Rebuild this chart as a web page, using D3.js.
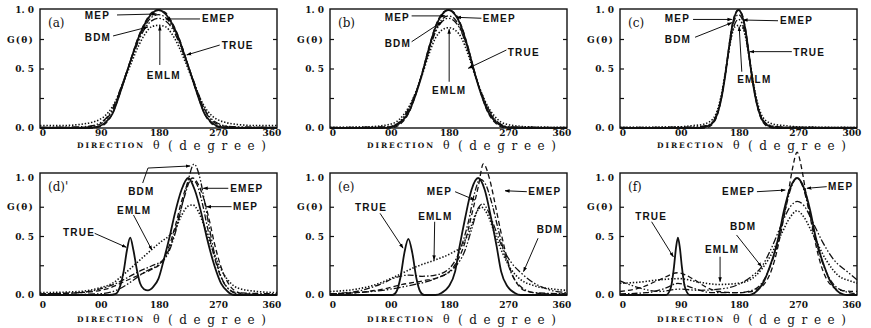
<!DOCTYPE html>
<html><head><meta charset="utf-8">
<script src="https://cdn.jsdelivr.net/npm/d3@7"></script>
<style>body{margin:0;background:#fff}</style>
</head><body><svg id="c" width="871" height="328"></svg>
<script>
// ---------- tick labels ----------
const xTickValues = [0, 90, 180, 270, 360];
const xTickText = {
  a: ["0", "90", "180", "270", "360"],
  b: ["0", "00", "180", "270", "360"],
  c: ["0", "00", "180", "270", "300"],
  d: ["0", "00", "180", "270", "360"],
  e: ["0", "00", "180", "270", "360"],
  f: ["0", "90", "180", "270", "360"]
};
const yTickValues = [0, 0.5, 0.75, 1.0];
const yTickText = ["0. 0", "0. 5", "G(θ)", "1. 0"];
const panelIds = ["a", "b", "c", "d", "e", "f"];
const panelTitles = ["(a)", "(b)", "(c)", "(d)'", "(e)", "(f)"];
const seriesNames = ["TRUE", "MEP", "EMEP", "BDM", "EMLM"];

// ---------- series: [direction deg, G] ----------
const a_TRUE = [[0,0],[70,0],[80,0.005],[90,0.015],[100,0.05],[110,0.12],[120,0.27],[130,0.44],[140,0.61],[150,0.77],[160,0.89],[170,0.97],[180,1.0],[190,0.97],[200,0.89],[210,0.77],[220,0.61],[230,0.44],[240,0.27],[250,0.12],[260,0.05],[270,0.015],[280,0.005],[290,0],[360,0]];
const a_MEP = [[0,0],[80,0],[90,0.01],[100,0.04],[110,0.12],[120,0.27],[130,0.44],[140,0.62],[150,0.78],[160,0.9],[170,0.98],[180,1.0],[190,0.98],[200,0.9],[210,0.78],[220,0.62],[230,0.44],[240,0.27],[250,0.12],[260,0.04],[270,0.01],[280,0],[360,0]];
const a_EMEP = [[0,0.005],[60,0.005],[80,0.015],[90,0.03],[100,0.07],[110,0.15],[120,0.29],[130,0.45],[140,0.61],[150,0.76],[160,0.87],[170,0.94],[180,0.96],[190,0.94],[200,0.87],[210,0.76],[220,0.61],[230,0.45],[240,0.29],[250,0.15],[260,0.07],[270,0.03],[280,0.015],[300,0.005],[360,0.005]];
const a_BDM = [[0,0.005],[60,0.01],[80,0.02],[90,0.04],[100,0.08],[110,0.16],[120,0.3],[130,0.45],[140,0.6],[150,0.74],[160,0.85],[170,0.91],[180,0.93],[190,0.91],[200,0.85],[210,0.74],[220,0.6],[230,0.45],[240,0.3],[250,0.16],[260,0.08],[270,0.04],[280,0.02],[300,0.01],[360,0.005]];
const a_EMLM = [[0,0.02],[30,0.02],[60,0.03],[80,0.05],[90,0.07],[100,0.11],[110,0.18],[120,0.29],[130,0.43],[140,0.57],[150,0.7],[160,0.8],[170,0.86],[180,0.87],[190,0.86],[200,0.8],[210,0.7],[220,0.57],[230,0.43],[240,0.29],[250,0.18],[260,0.11],[270,0.07],[280,0.05],[300,0.03],[330,0.02],[360,0.02]];

const b_TRUE = [[0,0],[80,0],[90,0.005],[100,0.02],[110,0.06],[120,0.14],[130,0.28],[140,0.46],[150,0.67],[160,0.85],[170,0.96],[180,1.0],[190,0.96],[200,0.85],[210,0.67],[220,0.46],[230,0.28],[240,0.14],[250,0.06],[260,0.02],[270,0.005],[280,0],[360,0]];
const b_MEP = [[0,0],[90,0],[100,0.01],[110,0.05],[120,0.13],[130,0.28],[140,0.47],[150,0.68],[160,0.86],[170,0.97],[180,1.0],[190,0.97],[200,0.86],[210,0.68],[220,0.47],[230,0.28],[240,0.13],[250,0.05],[260,0.01],[270,0],[360,0]];
const b_EMEP = [[0,0.003],[70,0.005],[90,0.01],[100,0.03],[110,0.07],[120,0.16],[130,0.29],[140,0.46],[150,0.66],[160,0.82],[170,0.92],[180,0.95],[190,0.92],[200,0.82],[210,0.66],[220,0.46],[230,0.29],[240,0.16],[250,0.07],[260,0.03],[270,0.01],[290,0.005],[360,0.003]];
const b_BDM = [[0,0.005],[70,0.008],[90,0.01],[100,0.03],[110,0.08],[120,0.17],[130,0.3],[140,0.46],[150,0.65],[160,0.81],[170,0.9],[180,0.93],[190,0.9],[200,0.81],[210,0.65],[220,0.46],[230,0.3],[240,0.17],[250,0.08],[260,0.03],[270,0.01],[290,0.008],[360,0.005]];
const b_EMLM = [[0,0.005],[40,0.008],[60,0.01],[80,0.02],[90,0.03],[100,0.05],[110,0.1],[120,0.18],[130,0.3],[140,0.45],[150,0.62],[160,0.76],[170,0.83],[180,0.85],[190,0.83],[200,0.76],[210,0.62],[220,0.45],[230,0.3],[240,0.18],[250,0.1],[260,0.05],[270,0.03],[280,0.02],[300,0.01],[320,0.008],[360,0.005]];

const c_TRUE = [[0,0],[120,0],[130,0.01],[140,0.04],[145,0.08],[150,0.16],[155,0.28],[160,0.45],[165,0.66],[170,0.85],[175,0.96],[180,1.0],[185,0.96],[190,0.85],[195,0.66],[200,0.45],[205,0.28],[210,0.16],[215,0.08],[220,0.04],[230,0.01],[240,0],[360,0]];
const c_MEP = [[0,0],[125,0],[135,0.01],[140,0.03],[145,0.07],[150,0.15],[155,0.28],[160,0.46],[165,0.67],[170,0.86],[175,0.97],[180,1.0],[185,0.97],[190,0.86],[195,0.67],[200,0.46],[205,0.28],[210,0.15],[215,0.07],[220,0.03],[225,0.01],[235,0],[360,0]];
const c_EMEP = [[0,0.003],[110,0.005],[130,0.015],[140,0.04],[145,0.08],[150,0.16],[155,0.29],[160,0.46],[165,0.65],[170,0.83],[175,0.93],[180,0.96],[185,0.93],[190,0.83],[195,0.65],[200,0.46],[205,0.29],[210,0.16],[215,0.08],[220,0.04],[230,0.015],[250,0.005],[360,0.003]];
const c_BDM = [[0,0.005],[110,0.008],[130,0.02],[140,0.05],[145,0.09],[150,0.17],[155,0.3],[160,0.46],[165,0.64],[170,0.8],[175,0.89],[180,0.92],[185,0.89],[190,0.8],[195,0.64],[200,0.46],[205,0.3],[210,0.17],[215,0.09],[220,0.05],[230,0.02],[250,0.008],[360,0.005]];
const c_EMLM = [[0,0.005],[90,0.01],[110,0.02],[125,0.03],[135,0.05],[140,0.07],[145,0.11],[150,0.19],[155,0.31],[160,0.47],[165,0.64],[170,0.79],[175,0.86],[180,0.87],[185,0.86],[190,0.79],[195,0.64],[200,0.47],[205,0.31],[210,0.19],[215,0.11],[220,0.07],[225,0.05],[235,0.03],[250,0.02],[270,0.01],[360,0.005]];

const d_TRUE = [[0,0],[105,0],[115,0.01],[122,0.08],[127,0.2],[132,0.38],[137,0.49],[142,0.38],[147,0.22],[152,0.1],[158,0.05],[164,0.04],[172,0.07],[180,0.14],[188,0.3],[197,0.5],[205,0.7],[215,0.9],[225,1.0],[235,0.9],[245,0.7],[253,0.5],[265,0.25],[275,0.1],[285,0.03],[295,0],[360,0]];
const d_MEP = [[0,0.01],[60,0.02],[100,0.05],[130,0.12],[150,0.17],[170,0.22],[185,0.28],[195,0.4],[205,0.58],[215,0.8],[225,0.96],[232,1.0],[240,0.95],[250,0.8],[258,0.62],[265,0.44],[275,0.24],[285,0.11],[295,0.04],[310,0.01],[360,0]];
const d_EMEP = [[0,0.01],[60,0.02],[90,0.05],[116,0.1],[130,0.14],[150,0.2],[170,0.25],[187,0.3],[200,0.45],[210,0.65],[220,0.85],[228,0.97],[235,0.97],[245,0.82],[255,0.56],[265,0.32],[275,0.15],[285,0.06],[300,0.02],[360,0.01]];
const d_BDM = [[0,0],[90,0.01],[120,0.05],[140,0.12],[160,0.2],[180,0.26],[195,0.36],[205,0.52],[215,0.75],[225,0.98],[234,1.12],[242,1.02],[250,0.8],[258,0.55],[266,0.33],[275,0.16],[285,0.06],[300,0.01],[360,0]];
const d_EMLM = [[0,0.02],[60,0.03],[90,0.06],[110,0.1],[130,0.19],[150,0.29],[170,0.39],[185,0.46],[195,0.5],[205,0.56],[215,0.68],[225,0.76],[232,0.77],[240,0.72],[250,0.58],[260,0.42],[270,0.28],[280,0.17],[290,0.1],[300,0.06],[330,0.03],[360,0.02]];

const e_TRUE = [[0,0],[95,0],[101,0.03],[107,0.15],[113,0.36],[119,0.48],[125,0.36],[131,0.15],[137,0.03],[143,0],[160,0],[170,0.02],[180,0.07],[190,0.2],[197,0.42],[205,0.65],[215,0.9],[225,1.0],[235,0.9],[245,0.65],[253,0.42],[260,0.2],[270,0.07],[280,0.02],[290,0],[360,0]];
const e_MEP = [[0,0.01],[40,0.02],[80,0.05],[110,0.09],[140,0.12],[170,0.16],[190,0.26],[205,0.45],[215,0.68],[225,0.92],[233,1.12],[242,1.0],[250,0.8],[258,0.58],[266,0.38],[275,0.2],[285,0.09],[300,0.03],[330,0.01],[360,0.01]];
const e_EMEP = [[0,0.01],[40,0.03],[80,0.1],[100,0.15],[120,0.17],[140,0.16],[160,0.17],[180,0.22],[195,0.35],[210,0.62],[220,0.88],[228,0.99],[236,0.95],[246,0.78],[256,0.55],[266,0.34],[276,0.18],[290,0.07],[310,0.02],[360,0.01]];
const e_BDM = [[0,0.01],[40,0.02],[80,0.04],[120,0.08],[160,0.14],[190,0.24],[205,0.38],[215,0.56],[225,0.74],[232,0.78],[240,0.72],[250,0.58],[260,0.43],[275,0.28],[290,0.19],[305,0.12],[330,0.05],[360,0.02]];
const e_EMLM = [[0,0.03],[40,0.05],[70,0.09],[100,0.16],[130,0.24],[160,0.3],[185,0.36],[200,0.42],[212,0.55],[222,0.7],[230,0.75],[240,0.68],[250,0.53],[262,0.36],[275,0.22],[290,0.13],[310,0.08],[340,0.05],[360,0.04]];

const f_TRUE = [[0,0],[70,0],[74,0.02],[78,0.08],[82,0.24],[85,0.4],[88,0.49],[91,0.4],[94,0.24],[98,0.08],[102,0.02],[106,0],[195,0],[200,0.005],[209,0.04],[219,0.12],[228,0.25],[234,0.35],[241,0.5],[249,0.72],[259,0.92],[269,1.0],[279,0.92],[289,0.72],[297,0.5],[304,0.35],[310,0.25],[319,0.12],[329,0.04],[339,0.005],[345,0],[360,0]];
const f_MEP = [[0,0.03],[30,0.06],[60,0.13],[88,0.19],[110,0.14],[130,0.07],[150,0.03],[180,0.02],[200,0.03],[220,0.1],[235,0.3],[245,0.55],[255,0.85],[262,1.08],[269,1.22],[276,1.08],[283,0.85],[293,0.55],[303,0.3],[318,0.1],[335,0.04],[360,0.03]];
const f_EMEP = [[0,0.01],[40,0.02],[70,0.06],[88,0.1],[110,0.06],[140,0.02],[180,0.02],[205,0.05],[225,0.2],[240,0.45],[250,0.7],[260,0.92],[269,1.0],[278,0.92],[288,0.7],[298,0.45],[313,0.2],[333,0.05],[360,0.01]];
const f_BDM = [[0,0.12],[30,0.06],[60,0.03],[90,0.05],[120,0.04],[150,0.05],[180,0.09],[200,0.16],[215,0.24],[230,0.4],[245,0.6],[258,0.75],[269,0.8],[280,0.76],[293,0.62],[308,0.45],[325,0.3],[345,0.2],[360,0.13]];
const f_EMLM = [[0,0.1],[30,0.11],[60,0.13],[90,0.14],[120,0.11],[150,0.09],[180,0.1],[205,0.16],[225,0.3],[245,0.52],[258,0.66],[269,0.72],[280,0.66],[293,0.52],[313,0.3],[333,0.16],[350,0.12],[360,0.1]];

const panelData = {
  a: [a_TRUE, a_MEP, a_EMEP, a_BDM, a_EMLM],
  b: [b_TRUE, b_MEP, b_EMEP, b_BDM, b_EMLM],
  c: [c_TRUE, c_MEP, c_EMEP, c_BDM, c_EMLM],
  d: [d_TRUE, d_MEP, d_EMEP, d_BDM, d_EMLM],
  e: [e_TRUE, e_MEP, e_EMEP, e_BDM, e_EMLM],
  f: [f_TRUE, f_MEP, f_EMEP, f_BDM, f_EMLM]
};

// annotations: [name, textDeg, textG, pointer path [[deg,G],...]]
const annotations = {
  a: [["MEP",68,0.955,[[117,0.958],[177,0.966]]],["EMEP",246,0.924,[[243,0.924],[191,0.924]]],["BDM",68,0.763,[[111,0.78],[164,0.856]]],["TRUE",276,0.703,[[273,0.703],[223,0.619]]],["EMLM",162,0.449,[[182,0.534],[182,0.864]]]],
  b: [["MEP",83,0.94,[[124,0.95],[175,0.95]]],["EMEP",232,0.924,[[230,0.93],[192,0.938]]],["BDM",83,0.72,[[124,0.731],[170,0.9]]],["TRUE",270,0.644,[[268,0.661],[210,0.506]]],["EMLM",155,0.322,[[181,0.392],[181,0.837]]]],
  c: [["MEP",68,0.924,[[111,0.92],[170,0.92]]],["EMEP",243,0.915,[[240,0.909],[187,0.915]]],["BDM",68,0.754,[[114,0.769],[170,0.893]]],["TRUE",263,0.644,[[261,0.647],[197,0.647]]],["EMLM",178,0.407,[[185,0.477],[181,0.859]]]],
  d: [["BDM",134,0.883,[[156,0.957],[164,1.085],[228,1.103]]],["EMLM",117,0.726,[[142,0.684],[170,0.385]]],["TRUE",35,0.532,[[83,0.527],[131,0.408]]],["EMEP",289,0.912,[[286,0.912],[248,0.912]]],["MEP",293,0.755,[[291,0.755],[253,0.755]]]],
  e: [["MEP",147,0.883,[[190,0.883],[220,0.812]]],["EMEP",301,0.883,[[299,0.883],[266,0.891]]],["TRUE",38,0.744,[[76,0.698],[111,0.4]]],["EMLM",134,0.669,[[159,0.626],[158,0.3]]],["BDM",314,0.556,[[316,0.485],[294,0.2]]]],
  f: [["EMEP",155,0.883,[[208,0.883],[251,0.897]]],["MEP",316,0.926,[[314,0.926],[284,0.912]]],["TRUE",23,0.669,[[48,0.626],[81,0.327]]],["BDM",167,0.584,[[177,0.513],[215,0.242]]],["EMLM",129,0.385,[[152,0.327],[152,0.114]]]]
};

// ---------- layout & styles ----------
const svg = d3.select("#c");
const W = 237;
const colX = [40, 330, 620];
const rows = [
  {frameTop: 9, y0: 128, y1: 10, tickY: 133, titleY: 150},
  {frameTop: 173, y0: 295, y1: 178, tickY: 304.5, titleY: 323.5}
];
const xLabelShift = [3, 2, 1, 1, -5];
const styles = {
  TRUE: {dash: null, w: 1.8},
  MEP: {dash: "5,3", w: 1.3},
  EMEP: {dash: "6,2,1.5,2", w: 1.3},
  BDM: {dash: "7,2,1.5,2,1.5,2", w: 1.3},
  EMLM: {dash: "1.4,1.8", w: 1.6}
};

svg.append("defs").append("marker")
  .attr("id", "arr").attr("viewBox", "0 0 10 10").attr("refX", 9).attr("refY", 5)
  .attr("markerWidth", 5).attr("markerHeight", 5).attr("orient", "auto")
  .append("path").attr("d", "M0,1.5L10,5L0,8.5Z").attr("fill", "#000");

panelIds.forEach((pid, i) => {
  const r = rows[Math.floor(i / 3)];
  const left = colX[i % 3];
  const x = d3.scaleLinear().domain([0, 360]).range([left, left + W]);
  const y = d3.scaleLinear().domain([0, 1]).range([r.y0, r.y1]);
  const g = svg.append("g");

  g.append("rect").attr("x", left).attr("y", r.frameTop).attr("width", W).attr("height", r.y0 - r.frameTop)
    .attr("fill", "none").attr("stroke", "#111").attr("stroke-width", 1.4);
  [0.25, 0.5, 0.75].forEach(v => {
    g.append("line").attr("x1", left).attr("x2", left + 4).attr("y1", y(v)).attr("y2", y(v)).attr("stroke", "#111").attr("stroke-width", 1.2);
    g.append("line").attr("x1", left + W - 4).attr("x2", left + W).attr("y1", y(v)).attr("y2", y(v)).attr("stroke", "#111").attr("stroke-width", 1.2);
  });
  yTickValues.forEach((v, k) => {
    g.append("text").attr("x", left - 6).attr("y", y(v)).attr("dy", "0.35em")
      .attr("text-anchor", "end").attr("font-family", "DejaVu Serif").attr("font-weight", "bold")
      .attr("font-size", 9).attr("letter-spacing", k === 2 ? 1.2 : 0).attr("fill", "#111").text(yTickText[k]);
  });
  xTickValues.forEach((v, k) => {
    g.append("text").attr("x", x(v) + xLabelShift[k]).attr("y", r.tickY).attr("dy", "0.35em")
      .attr("text-anchor", "middle").attr("font-family", "DejaVu Serif").attr("font-weight", "bold")
      .attr("font-size", 9).attr("fill", "#111").text(xTickText[pid][k]);
  });
  g.append("text").attr("x", left + 37).attr("y", r.titleY - 2)
    .attr("font-family", "DejaVu Serif").attr("font-weight", "bold").attr("font-size", 7.5)
    .attr("textLength", 66).attr("lengthAdjust", "spacing").attr("fill", "#111").text("DIRECTION");
  g.append("text").attr("x", left + 113).attr("y", r.titleY - 1)
    .attr("font-family", "DejaVu Serif").attr("font-size", 11).attr("fill", "#111").text("θ");
  g.append("text").attr("x", left + 128).attr("y", r.titleY)
    .attr("font-family", "DejaVu Serif").attr("font-size", 12)
    .attr("textLength", 98).attr("lengthAdjust", "spacing").attr("fill", "#111").text("(degree)");
  g.append("text").attr("x", left + 8).attr("y", r.frameTop + 18)
    .attr("font-family", "DejaVu Serif").attr("font-size", 12).attr("fill", "#111").text(panelTitles[i]);

  const line = d3.line().x(d => x(d[0])).y(d => y(d[1])).curve(d3.curveMonotoneX);
  panelData[pid].forEach((ser, k) => {
    const st = styles[seriesNames[k]];
    g.append("path").attr("d", line(ser)).attr("fill", "none").attr("stroke", "#111")
      .attr("stroke-width", st.w).attr("stroke-dasharray", st.dash).attr("stroke-linejoin", "round");
  });

  const pl = d3.line().x(d => x(d[0])).y(d => y(d[1]));
  annotations[pid].forEach(([name, td, tv, path]) => {
    g.append("path").attr("d", pl(path)).attr("fill", "none").attr("stroke", "#111")
      .attr("stroke-width", 1).attr("marker-end", "url(#arr)");
    g.append("text").attr("x", x(td)).attr("y", y(tv)).attr("dy", "0.35em")
      .attr("font-family", "Liberation Sans").attr("font-weight", "bold").attr("font-size", 10)
      .attr("letter-spacing", 1.2).attr("fill", "#111").text(name);
  });
});
</script></body></html>
